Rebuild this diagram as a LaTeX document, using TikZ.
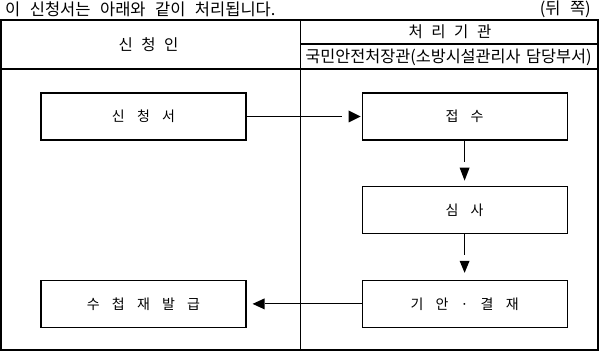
\documentclass[tikz,border=0pt]{standalone}
\usepackage{fontspec}
\setmainfont{Noto Sans CJK KR}
\usetikzlibrary{calc}
\newcommand\boxfnt{\fontsize{14}{16}\selectfont\spaceskip 12.2pt\relax}
\newcommand\headfnt{\fontsize{15.5}{17}\selectfont\spaceskip 8.5pt\relax}
\newcommand\deptfnt{\fontsize{16.3}{18}\selectfont\spaceskip 5.5pt\relax}
\newcommand\titlefnt{\fontsize{16.5}{18}\selectfont\spaceskip 9.5pt\relax}
\begin{document}
\begin{tikzpicture}[x=1pt,y=-1pt,
  innerline/.style={line width=1.1pt},
  frameline/.style={line width=2.4pt},
  procbox/.style={draw, line width=1.1pt, minimum width=205pt, minimum height=47pt,
    inner sep=0pt, font=\boxfnt},
  headtext/.style={inner sep=0pt, font=\headfnt},
  depttext/.style={inner sep=0pt, font=\deptfnt},
  titletext/.style={inner sep=0pt, font=\titlefnt},
  tiphead/.style={fill=black}
]
\useasboundingbox (0,0) rectangle (600,352);
\fill[white] (0,0) rectangle (600,352);

% table
\draw[frameline] (1.25,20.3) rectangle (598.2,350.3);
\draw[innerline] (300.5,20.3) -- (300.5,350.3);
\draw[innerline] (300.5,44) -- (598.2,44);
\draw[innerline] (1.25,69) -- (598.2,69);

% texts
\node[titletext, anchor=west] (title) at (5,9) {이 신청서는 아래와 같이 처리됩니다.};
\node[titletext, anchor=east] (page) at (591,9) {(뒤 쪽)};
\node[headtext] (applicant) at (148.5,44.5) {신 청 인};
\node[headtext] (agency) at (450,32) {처 리 기 관};
\node[depttext] (dept) at (448.5,57) {국민안전처장관(소방시설관리사 담당부서)};

% boxes
\node[procbox] (app) at (143.5,116.5) {신 청 서};
\node[procbox] (recv) at (464.6,116.5) {접 수};
\node[procbox] (review) at (464.6,210.2) {심 사};
\node[procbox] (approve) at (464.6,303.9) {기 안 · 결 재};
\node[procbox] (reissue) at (143.5,303.9) {수 첩 재 발 급};

% arrows
\draw[innerline] (app.east) -- ($(recv.west)+(-20,0)$);
\fill[tiphead] ($(recv.west)+(-1,0)$) -- ++(-12,-6) -- ++(0,12) -- cycle;

\draw[innerline] (recv.south) -- ($(review.north)+(0,-24)$);
\fill[tiphead] ($(review.north)+(0,-5.5)$) -- ++(-5,-13) -- ++(10,0) -- cycle;

\draw[innerline] (review.south) -- ($(approve.north)+(0,-24.5)$);
\fill[tiphead] ($(approve.north)+(0,-7)$) -- ++(-5,-12) -- ++(10,0) -- cycle;

\draw[innerline] (approve.west) -- ($(reissue.east)+(18,0)$);
\fill[tiphead] ($(reissue.east)+(6,0)$) -- ++(12,-5.5) -- ++(0,11) -- cycle;
\end{tikzpicture}
\end{document}
